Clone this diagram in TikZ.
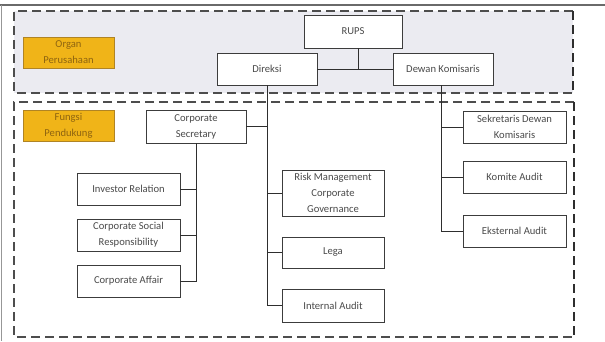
\documentclass[tikz,border=0pt]{standalone}
\usepackage{fontspec}
\setmainfont{Carlito}
\usetikzlibrary{calc}
\definecolor{orgfill}{HTML}{F0B418}
\definecolor{orgtext}{HTML}{8E6410}
\definecolor{orgdraw}{HTML}{B08424}
\definecolor{topfill}{HTML}{EBEBF1}
\definecolor{boxtext}{HTML}{4A4A4A}
\definecolor{boxdraw}{HTML}{3C3C3C}
\definecolor{linecol}{HTML}{2E2E2E}
\definecolor{framecol}{HTML}{6A6A6A}
\tikzset{
  unitbox/.style={draw=boxdraw, line width=0.8pt, fill=white, text=boxtext,
    font=\fontsize{10.6}{16}\selectfont, align=center, inner sep=0pt,
    minimum width=101pt, minimum height=32pt},
  tagbox/.style={draw=orgdraw, line width=0.8pt, fill=orgfill, text=orgtext,
    font=\fontsize{10.6}{16}\selectfont, align=center, inner sep=0pt,
    minimum width=91pt, minimum height=31pt},
  conn/.style={draw=linecol, line width=0.9pt},
  zone/.style={draw=linecol!85, line width=1.4pt, dash pattern=on 9pt off 5pt},
  zoneedge/.style={draw=linecol, line width=2.4pt, dash pattern=on 9pt off 5pt}
}
\begin{document}
\begin{tikzpicture}[x=1pt,y=-1pt]
\useasboundingbox (0,0) rectangle (605,341);
\fill[white] (0,0) rectangle (605,341);
% page frame lines
\draw[framecol, line width=1.2pt] (0,5) -- (605,5);
\draw[framecol!70, line width=0.8pt] (1,5) -- (1,341);
% zones
\fill[topfill] (14,11) rectangle (573,93);
\draw[zone] (573,11) -- (14,11) -- (14,93) -- (573,93);
\draw[zoneedge] (573,11) -- (573,93);
\draw[zone] (574,102) -- (14,102) -- (14,337) -- (574,337);
\draw[zoneedge] (574,102) -- (574,337);
% tags
\node[tagbox] (organ) at (68.5,52.5) {Organ\\Perusahaan};
\node[tagbox] (fungsi) at (68.5,126) {Fungsi\\Pendukung};
% top level
\node[unitbox, minimum width=98pt, minimum height=33pt] (rups) at (353,31.5) {RUPS};
\node[unitbox, minimum width=100pt] (direksi) at (267,69) {Direksi};
\node[unitbox, minimum width=100pt] (dekom) at (443,69) {Dewan Komisaris};
% corporate secretary branch
\node[unitbox, minimum width=100pt, minimum height=33pt] (cs) at (196,126.5) {Corporate\\Secretary};
\node[unitbox, minimum width=103pt] (ir) at (128.5,189) {Investor Relation};
\node[unitbox, minimum width=103pt] (csr) at (128.5,235) {Corporate Social\\Responsibility};
\node[unitbox, minimum width=103pt] (ca) at (128.5,281) {Corporate Affair};
% direksi branch
\node[unitbox, minimum width=102pt, minimum height=46pt] (rm) at (333,193) {Risk Management\\Corporate\\Governance};
\node[unitbox, minimum width=102pt, minimum height=31pt] (lega) at (333,252.5) {Lega};
\node[unitbox, minimum width=102pt, minimum height=33pt] (ia) at (333,305.5) {Internal Audit};
% dewan komisaris branch
\node[unitbox, minimum width=103pt] (sdk) at (514.5,127) {Sekretaris Dewan\\Komisaris};
\node[unitbox, minimum width=103pt] (ka) at (514.5,177) {Komite Audit};
\node[unitbox, minimum width=103pt] (ea) at (514.5,231) {Eksternal Audit};
% connectors
\coordinate (hub) at ($(rups.south)+(5,0)$);
\draw[conn] (direksi.east) -- (dekom.west);
\draw[conn] (hub) -- (hub |- direksi.east);
\draw[conn] (direksi.south) -- (direksi.south |- ia.west) -- (ia.west);
\draw[conn] (direksi.south |- cs.east) -- (cs.east);
\draw[conn] (direksi.south |- rm.west) -- (rm.west);
\draw[conn] (direksi.south |- lega.west) -- (lega.west);
\draw[conn] (cs.south) -- (cs.south |- ca.east) -- (ca.east);
\draw[conn] (cs.south |- ir.east) -- (ir.east);
\draw[conn] (cs.south |- csr.east) -- (csr.east);
\draw[conn] ($(dekom.south)+(-2,0)$) coordinate (dk) -- (dk |- ea.west) -- (ea.west);
\draw[conn] (dk |- sdk.west) -- (sdk.west);
\draw[conn] (dk |- ka.west) -- (ka.west);
\end{tikzpicture}
\end{document}
